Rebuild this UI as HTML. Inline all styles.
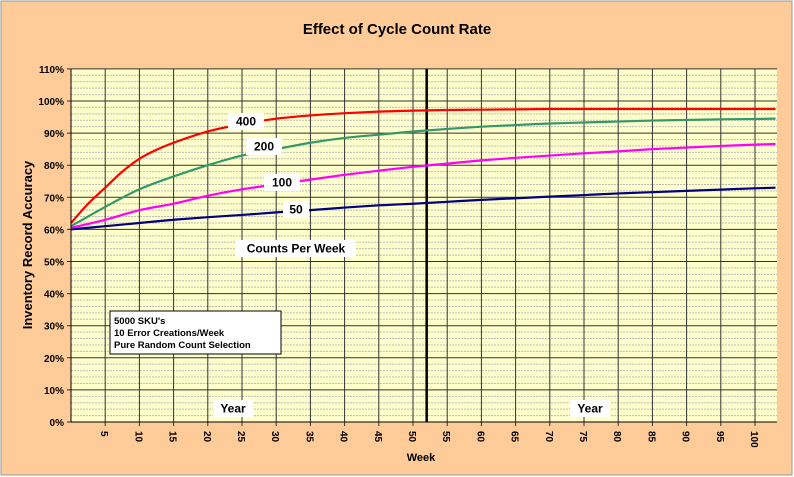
<!DOCTYPE html>
<html><head><meta charset="utf-8"><style>
body{margin:0;background:#fff;}
svg{display:block;font-family:"Liberation Sans",Arial,sans-serif;}
</style></head><body>
<svg id="c" width="794" height="477" xmlns="http://www.w3.org/2000/svg">
<rect x="1" y="1" width="791" height="474" fill="#FFCC99" stroke="#999"/>
<text x="397" y="34" font-size="15" font-weight="bold" text-anchor="middle">Effect of Cycle Count Rate</text>
<rect x="71" y="69" width="706" height="353" fill="#FFFFCC"/>
<g id="grid"></g>
<g id="series"></g>
<g id="axes"></g>
<text transform="translate(32,245) rotate(-90)" font-size="13" font-weight="bold" text-anchor="middle">Inventory Record Accuracy</text>
<text x="421" y="461" font-size="11" font-weight="bold" text-anchor="middle">Week</text>
</svg>
<script>
const weeks=[0,5,10,15,20,25,30,35,40,45,50,55,60,65,70,75,80,85,90,95,100,103];
const weeks400=[0,2.5,5,7.5,10,12.5,15,20,25,30,35,40,45,50,55,60,65,70,75,80,85,90,95,100,103];
const s400=[62,68,73,78,82,84.8,87,90.5,92.8,94.5,95.5,96.2,96.7,97,97.2,97.3,97.4,97.5,97.5,97.5,97.5,97.5,97.5,97.5,97.5];
const s200=[61,67,72.5,76.5,80,83,85,87,88.5,89.5,90.5,91.3,92,92.5,93,93.3,93.6,93.9,94.1,94.3,94.4,94.5];
const s100=[60.5,63,66,68,70.5,72.5,74,75.5,77,78.3,79.5,80.5,81.5,82.3,83,83.7,84.3,85,85.5,86,86.4,86.6];
const s50=[60,61,62,63,63.8,64.5,65.3,66,66.8,67.5,68,68.6,69.2,69.7,70.2,70.7,71.2,71.6,72,72.4,72.8,73];
const xTicks=[5,10,15,20,25,30,35,40,45,50,55,60,65,70,75,80,85,90,95,100];
const yTicks=[0,10,20,30,40,50,60,70,80,90,100,110];
const yearWeek=52;
const X=w=>71+w*6.84, Y=v=>422-v*3.21;
const NS="http://www.w3.org/2000/svg";
function mk(t,a,p){const e=document.createElementNS(NS,t);for(const k in a)e.setAttribute(k,a[k]);p.appendChild(e);return e;}
function smooth(pts){let d='M'+pts[0][0]+','+pts[0][1];for(let i=0;i<pts.length-1;i++){const p0=pts[Math.max(0,i-1)],p1=pts[i],p2=pts[i+1],p3=pts[Math.min(pts.length-1,i+2)];
const c1x=p1[0]+(p2[0]-p0[0])/6,c1y=p1[1]+(p2[1]-p0[1])/6,c2x=p2[0]-(p3[0]-p1[0])/6,c2y=p2[1]-(p3[1]-p1[1])/6;
d+=` C${c1x},${c1y} ${c2x},${c2y} ${p2[0]},${p2[1]}`;}return d;}
const grid=document.getElementById('grid'),ser=document.getElementById('series'),ax=document.getElementById('axes'),svg=document.getElementById('c');
for(let v=2;v<110;v+=2){if(v%10===0)continue;const l=mk('line',{x1:71,x2:777,y1:Y(v),y2:Y(v),stroke:'#bbb','stroke-width':1,'stroke-dasharray':'2,1'},grid);

}
yTicks.forEach(v=>{const l=mk('line',{x1:67,x2:777,y1:Y(v),y2:Y(v),stroke:'#333','stroke-width':1},grid);


const t=mk('text',{x:64,y:Y(v)+4,'font-size':10,'font-weight':'bold','text-anchor':'end'},ax);t.textContent=v+'%';

});
xTicks.forEach(w=>{const l=mk('line',{x1:X(w),x2:X(w),y1:69,y2:426,stroke:'#333','stroke-width':1},grid);


const t=mk('text',{transform:`translate(${X(w)-4},431) rotate(90)`,'font-size':10,'font-weight':'bold'},ax);t.textContent=w;

});
const yl=mk('line',{x1:X(yearWeek),x2:X(yearWeek),y1:69,y2:422,stroke:'#000','stroke-width':2.5},grid);


const axl=mk('path',{d:'M71,69V422H777',fill:'none',stroke:'#000','stroke-width':1},ax);


[[weeks,s50,'#000080','series-50'],[weeks,s100,'#FF00FF','series-100'],[weeks,s200,'#339966','series-200'],[weeks400,s400,'#FF0000','series-400']].forEach(([wk,d,c,n])=>{
const p=mk('path',{d:smooth(d.map((v,i)=>[X(wk[i]),Y(v)])),fill:'none',stroke:c,'stroke-width':2.2},ser);

});
function box(x,y,w,h,txt,name,size){const g=mk('g',{},svg);


mk('rect',{x:x,y:y,width:w,height:h,fill:'#fff'},g);const t=mk('text',{x:x+w/2,y:y+h/2+4,'font-size':size||12,'font-weight':'bold','text-anchor':'middle'},g);t.textContent=txt;}
box(228,113,36,17,'400','label-400');
box(246,138,36,17,'200','label-200');
box(264,174,36,17,'100','label-100');
box(283,201,26,17,'50','label-50');
box(236,240,120,17,'Counts Per Week','label-counts-per-week');
box(213,400,40,17,'Year','year-label-1');
box(570,400,40,17,'Year','year-label-2');
const nb=mk('g',{},svg);


mk('rect',{x:110,y:311,width:171,height:43,fill:'#fff',stroke:'#000'},nb);
['5000 SKU\'s','10 Error Creations/Week','Pure Random Count Selection'].forEach((s,i)=>{const t=mk('text',{x:114,y:324+i*12,'font-size':9.5,'font-weight':'bold'},nb);t.textContent=s;});
</script>
</body></html>
